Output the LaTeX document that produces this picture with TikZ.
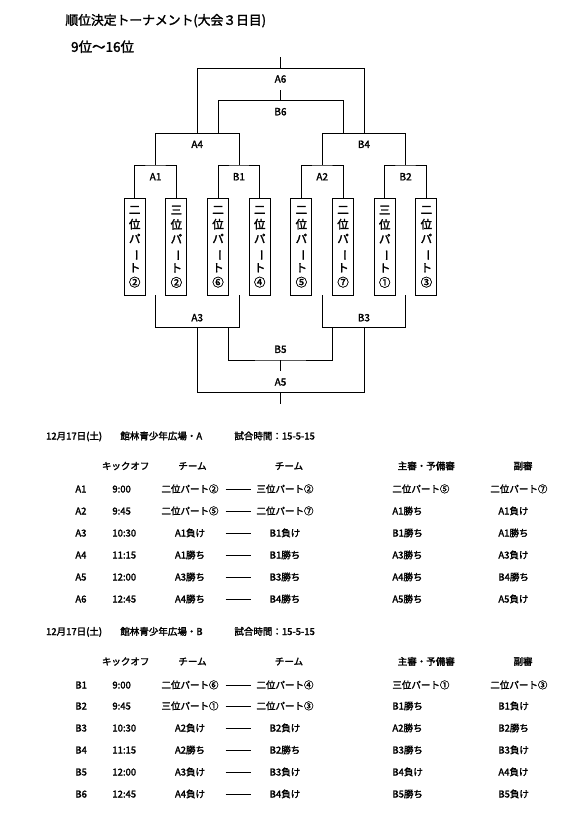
\documentclass[tikz,border=0pt]{standalone}
\usepackage{fontspec}
\usepackage{graphicx}
\setmainfont{Noto Sans CJK JP}[FakeBold=2]
\newcommand{\vbarchar}{\rotatebox[origin=c]{-90}{ー}}
\begin{document}
\begin{tikzpicture}[x=1pt,y=-1pt,line width=0.8pt,
  lbl/.style={font=\fontsize{10}{11}\selectfont,inner sep=0},
  ptbox/.style={draw,line width=0.8pt,minimum width=21pt,minimum height=96.5pt,inner sep=0,align=center,font=\fontsize{11.5}{14.5}\selectfont},
  tx/.style={font=\fontsize{9.5}{10}\selectfont,inner sep=0,anchor=base},
  txl/.style={tx,anchor=base west},
  hd/.style={font=\fontsize{9.5}{10}\selectfont,inner sep=0,anchor=base west}]
\useasboundingbox (0,0) rectangle (577,821);
\fill[white] (0,0) rectangle (577,821);

% titles
\node[anchor=west,inner sep=0,font=\fontsize{12.8}{13}\selectfont] (title) at (65,20.7) {順位決定トーナメント(大会３日目)};
\node[anchor=west,inner sep=0,font=\fontsize{13.5}{14}\selectfont] (sub) at (70.7,46.7) {9位～16位};

% team boxes
\foreach \i/\t/\n in {1/二/②,2/三/②,3/二/⑥,4/二/④,5/二/⑤,6/二/⑦,7/三/①,8/二/③}
  \node[ptbox] (p\i) at ({134.7+41.67*(\i-1)},246.75) {\t\\位\\パ\\\vbarchar\\ト\\\n};

% top bracket coordinates
\coordinate (a1) at (155.5,165);
\coordinate (b1) at (238.9,165);
\coordinate (a2) at (322.2,165);
\coordinate (b2) at (405.6,165);
\coordinate (a4) at (197.2,133.7);
\coordinate (b4) at (363.9,133.7);
\coordinate (a6) at (280.5,68.3);
\coordinate (a6t) at (280.5,57);
\coordinate (b6l) at (218.04,133.7);
\coordinate (b6r) at (343.05,133.7);
\coordinate (b6) at (280.5,100.7);
\coordinate (b6t) at (280.5,90);

\draw (p1.north) |- (a1) -| (p2.north);
\draw (p3.north) |- (b1) -| (p4.north);
\draw (p5.north) |- (a2) -| (p6.north);
\draw (p7.north) |- (b2) -| (p8.north);
\draw (a1) |- (a4) -| (b1);
\draw (a2) |- (b4) -| (b2);
\draw (a4) |- (a6) -| (b4);
\draw (a6) -- (a6t);
\draw (b6l) |- (b6) -| (b6r);
\draw (b6) -- (b6t);

\node[lbl] (la6) at (280.5,79) {A6};
\node[lbl] (lb6) at (280.5,111.7) {B6};
\node[lbl] (la4) at (197.2,144.3) {A4};
\node[lbl] (lb4) at (363.9,144.3) {B4};
\node[lbl] (la1) at (155.5,176.7) {A1};
\node[lbl] (lb1) at (238.9,176.7) {B1};
\node[lbl] (la2) at (322.2,176.7) {A2};
\node[lbl] (lb2) at (405.6,176.7) {B2};

% bottom bracket
\coordinate (a3l) at (155.5,295);
\coordinate (a3r) at (238.9,295);
\coordinate (b3l) at (322.2,295);
\coordinate (b3r) at (405.6,295);
\coordinate (a3) at (197.2,327.3);
\coordinate (b3) at (363.9,327.3);
\coordinate (b5l) at (228.7,327.3);
\coordinate (b5r) at (332.3,327.3);
\coordinate (b5) at (280.5,360);
\coordinate (b5b) at (280.5,370.7);
\coordinate (a5) at (280.5,392.3);
\coordinate (a5b) at (280.5,404);

\draw (a3l) |- (a3) -| (a3r);
\draw (b3l) |- (b3) -| (b3r);
\draw (a3) |- (a5) -| (b3);
\draw (a5) -- (a5b);
\draw (b5l) |- (b5) -| (b5r);
\draw (b5) -- (b5b);

\node[lbl] (la3) at (197.2,317.7) {A3};
\node[lbl] (lb3) at (363.9,317.7) {B3};
\node[lbl] (lb5) at (280.5,349.3) {B5};
\node[lbl] (la5) at (280.5,382) {A5};

% schedule tables
\foreach \s/\o/\f in {A/0/館林青少年広場・A, B/195.5/館林青少年広場・B}{
  \node[hd] (\s-date) at (45.7,439.5+\o) {12月17日(土)};
  \node[hd] (\s-place) at (120,439.5+\o) {\f};
  \node[hd] (\s-time) at (234,439.5+\o) {試合時間：15-5-15};
  \node[tx] (\s-h1) at (125.7,469.5+\o) {キックオフ};
  \node[tx] (\s-h2) at (192.5,469.5+\o) {チーム};
  \node[tx] (\s-h3) at (289,469.5+\o) {チーム};
  \node[tx] (\s-h4) at (426.3,469.5+\o) {主審・予備審};
  \node[tx] (\s-h5) at (523,469.5+\o) {副審};
}

\foreach \y/\id/\tm/\ta/\tb/\rf/\sr/\sx in {
  492.5/A1/9:00/二位パート②/三位パート②/二位パート⑤/二位パート⑦/490,
  514.5/A2/9:45/二位パート⑤/二位パート⑦/A1勝ち/A1負け/498,
  536.5/A3/10:30/A1負け/B1負け/B1勝ち/A1勝ち/498,
  558.5/A4/11:15/A1勝ち/B1勝ち/A3勝ち/A3負け/498,
  580.5/A5/12:00/A3勝ち/B3勝ち/A4勝ち/B4勝ち/498,
  602.5/A6/12:45/A4勝ち/B4勝ち/A5勝ち/A5負け/498,
  688.5/B1/9:00/二位パート⑥/二位パート④/三位パート①/二位パート③/490,
  709.5/B2/9:45/三位パート①/二位パート③/B1勝ち/B1負け/498,
  731.5/B3/10:30/A2負け/B2負け/A2勝ち/B2勝ち/498,
  753.5/B4/11:15/A2勝ち/B2勝ち/B3勝ち/B3負け/498,
  775.5/B5/12:00/A3負け/B3負け/B4負け/A4負け/498,
  797.5/B6/12:45/A4負け/B4負け/B5勝ち/B5負け/498}{
  \node[txl] (\id-id) at (75,\y) {\id};
  \node[txl] (\id-tm) at (112,\y) {\tm};
  \node[tx] (\id-ta) at (190,\y) {\ta};
  \node[tx] (\id-d) at (238,\y) {\rule[3.3pt]{25pt}{0.6pt}};
  \node[tx] (\id-tb) at (285,\y) {\tb};
  \node[txl] (\id-rf) at (392,\y) {\rf};
  \node[txl] (\id-sr) at (\sx,\y) {\sr};
}
\end{tikzpicture}
\end{document}
